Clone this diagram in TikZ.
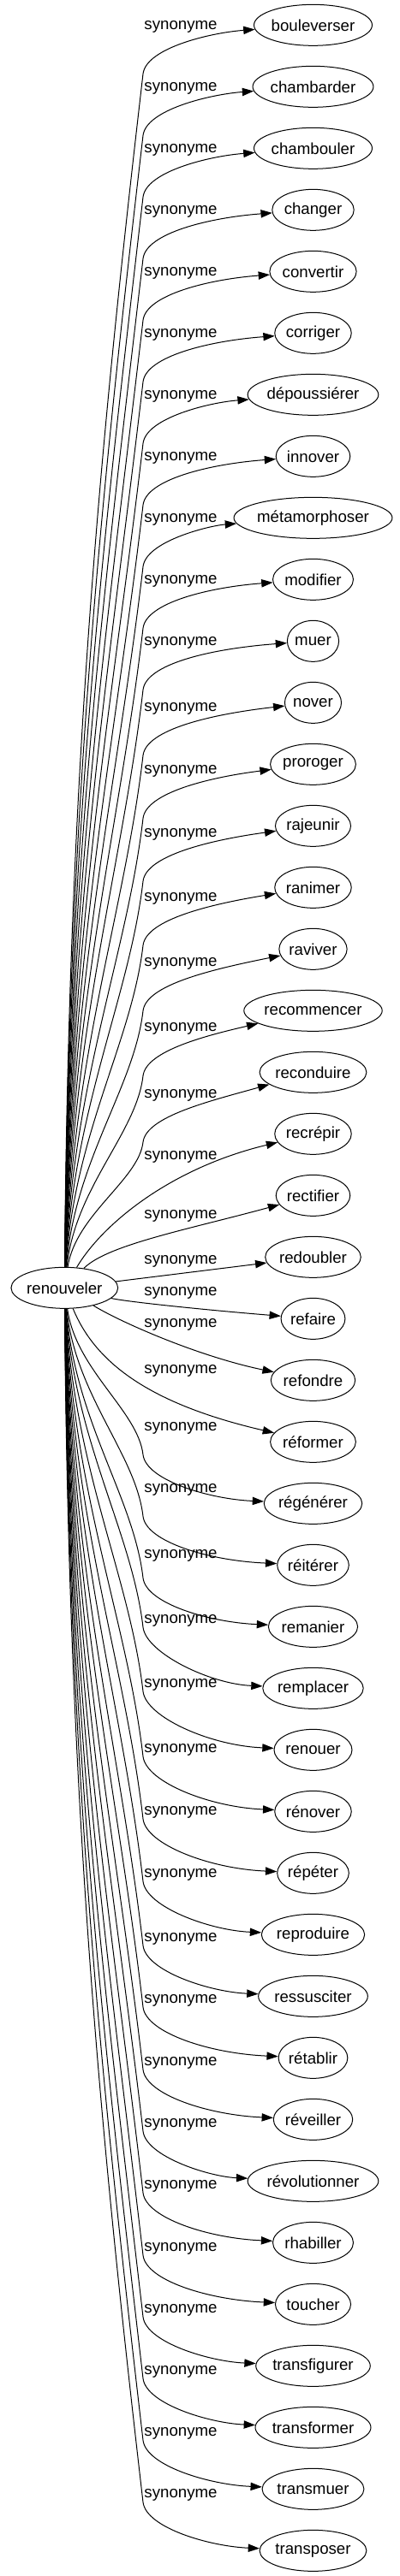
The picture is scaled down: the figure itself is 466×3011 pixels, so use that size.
\documentclass[tikz,border=0pt]{standalone}
\usepackage{fontspec}
\setmainfont{Liberation Sans}
\usetikzlibrary{arrows.meta,shapes.geometric}
\newlength\wordw
\newcommand\nodefont{\fontsize{18.67pt}{22pt}\selectfont}
\tikzset{
  word/.style={ellipse, draw, line width=1pt, inner xsep=0pt, inner ysep=0pt, minimum height=48pt, font=\nodefont, text=black},
  lbl/.style={inner sep=0pt, font=\nodefont, text=black},
  edge/.style={draw, line width=1pt, -{Triangle[length=13.3pt,width=9.3pt]}},
}
\newcommand\wordnode[4]{%
  \settowidth\wordw{\nodefont #4}%
  \pgfmathsetlengthmacro\ww{1.2\wordw+34pt}%
  \node[word, minimum width=\ww] (#1) at (#2,#3) {#4};}
\begin{document}
\begin{tikzpicture}[x=1pt,y=-1pt]
\useasboundingbox (0,0) rectangle (466,3011);
\wordnode{r}{75.33}{1505.33}{renouveler}
\foreach \k/\w in {0/bouleverser,1/chambarder,2/chambouler,3/changer,4/convertir,5/corriger,6/dépoussiérer,7/innover,8/métamorphoser,9/modifier,10/muer,11/nover,12/proroger,13/rajeunir,14/ranimer,15/raviver,16/recommencer,17/reconduire,18/recrépir,19/rectifier,20/redoubler,21/refaire,22/refondre,23/réformer,24/régénérer,25/réitérer,26/remanier,27/remplacer,28/renouer,29/rénover,30/répéter,31/reproduire,32/ressusciter,33/rétablir,34/réveiller,35/révolutionner,36/rhabiller,37/toucher,38/transfigurer,39/transformer,40/transmuer,41/transposer}{
  \pgfmathsetmacro\ty{29.33+72*\k}
  \wordnode{t\k}{365.5}{\ty}{\w}
}
\foreach \k/\yl in {0/31.33,1/103.33,2/175.33,3/247.33,4/319.33,5/391.33,6/463.33,7/535.33,8/607.33,9/679.33,10/751.33,11/828,12/901.5,13/975,14/1050,15/1126.5,16/1202.5,17/1280,18/1352.5,19/1421,20/1474.5,21/1511.5,22/1548.5,23/1602.5,24/1669.5,25/1741.5,26/1818.3,27/1894,28/1969,29/2045,30/2118,31/2191,32/2266,33/2338,34/2411,35/2483,36/2555,37/2628,38/2700,39/2772,40/2844.3,41/2916.7}{
  \node[lbl] (l\k) at (211,\yl) {synonyme};
}
% upper edges
\foreach \k/\yl in {0/31.33,1/103.33,2/175.33,3/247.33,4/319.33,5/391.33,6/463.33,7/535.33,8/607.33,9/679.33,10/751.33,11/828,12/901.5,13/975,14/1050,15/1126.5,16/1202.5,17/1280}{
  \pgfmathsetmacro\by{\yl+55}
  \pgfmathsetmacro\H{1481-\by}
  \pgfmathsetmacro\ca{1481-0.42*\H}
  \pgfmathsetmacro\cx{80+0.5*\k}
  \pgfmathsetmacro\D{0.3*\H}
  \pgfmathsetmacro\cbx{167-0.116*\D}
  \pgfmathsetmacro\cby{\by+\D}
  \pgfmathsetmacro\ccy{\by-30}
  \pgfmathsetmacro\cdy{\yl+7}
  \coordinate (b\k) at (167,\by);
  \draw[edge] (r) .. controls (\cx,\ca) and (\cbx,\cby) .. (b\k) .. controls (170.5,\ccy) and (245,\cdy) .. (t\k);
}
% middle edges
\draw[edge] (r) .. controls (120,1430) and (200,1365) .. (t18);
\draw[edge] (r) .. controls (125,1455) and (220,1437) .. (t19);
\draw[edge] (r) -- (t20);
\draw[edge] (r) .. controls (150,1522) and (250,1532) .. (t21);
\draw[edge] (r) .. controls (140,1545) and (230,1585) .. (t22);
\draw[edge] (r) .. controls (110,1590) and (170,1640) .. (t23);
% lower edges
\foreach \k/\yl in {24/1669.5,25/1741.5,26/1818.3,27/1894,28/1969,29/2045,30/2118,31/2191,32/2266,33/2338,34/2411,35/2483,36/2555,37/2628,38/2700,39/2772,40/2844.3,41/2916.7}{
  \pgfmathsetmacro\ty{29.33+72*\k}
  \pgfmathsetmacro\by{\k<27 ? (\ty-57) : (\yl+8)}
  \pgfmathsetmacro\H{\by-1529.5}
  \pgfmathsetmacro\ca{1529.5+0.42*\H}
  \pgfmathsetmacro\cx{80+0.5*(41-\k)}
  \pgfmathsetmacro\D{0.3*\H}
  \pgfmathsetmacro\cbx{167-0.116*\D}
  \pgfmathsetmacro\cby{\by-\D}
  \pgfmathsetmacro\ccy{\by+30}
  \pgfmathsetmacro\cdy{\ty-5}
  \coordinate (b\k) at (167,\by);
  \draw[edge] (r) .. controls (\cx,\ca) and (\cbx,\cby) .. (b\k) .. controls (170.5,\ccy) and (245,\cdy) .. (t\k);
}
\end{tikzpicture}
\end{document}
